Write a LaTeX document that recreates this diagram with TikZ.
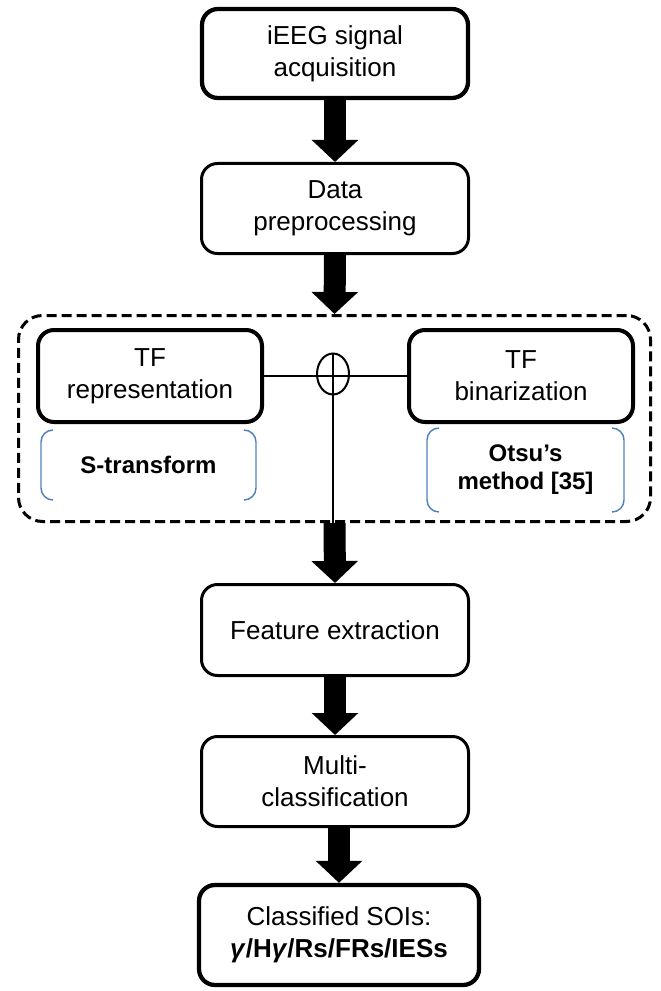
\documentclass[tikz,border=0pt]{standalone}
\usepackage{fontspec}
\setmainfont{Liberation Sans}
\usetikzlibrary{arrows.meta,shapes.geometric}
\definecolor{brk}{RGB}{79,129,189}
\newcommand{\pxs}{0.75pt}
\tikzset{
  box/.style={draw, rounded corners=12pt, align=center, inner sep=0pt,
    font=\fontsize{19.5}{24}\selectfont, line width=2.25pt},
  thickbox/.style={box, line width=3.2pt},
  tfbox/.style={box, line width=3pt, minimum width=224*\pxs, minimum height=92*\pxs},
  dashbox/.style={draw, line width=2.25pt, dash pattern=on 7.5pt off 3.75pt, rounded corners=18pt},
  blk/.style={line width=16.5pt, -{Triangle[length=16.5pt,width=34pt]}},
  thinline/.style={line width=1.5pt},
  brack/.style={draw=brk, line width=1.1pt, rounded corners=9pt},
  lbl/.style={font=\bfseries\fontsize{18}{21}\selectfont, align=center, inner sep=0pt},
}
\begin{document}
\begin{tikzpicture}[x=0.75pt,y=-0.75pt]
\useasboundingbox (0,0) rectangle (660,991);
% main column
\node[thickbox, minimum width=266*\pxs, minimum height=89*\pxs] (acq) at (335,53.5) {iEEG signal\\acquisition};
\node[box, minimum width=267*\pxs, minimum height=90*\pxs] (pre) at (335,208.5) {Data\\preprocessing};
% group
\node[dashbox, minimum width=632*\pxs, minimum height=206*\pxs] (grp) at (334.5,418.5) {};
\node[tfbox] (rep) at (150,376) {TF\\representation};
\node[tfbox] (bin) at (521,376) {TF\\binarization};
\node[ellipse, draw, thinline, minimum width=32*\pxs, minimum height=41*\pxs, inner sep=0pt] (ell) at (333,374) {};
\draw[thinline] (rep.east) -- (bin.west);
\draw[thinline] (ell.north) -- (ell.north |- grp.south);
% bracketed labels
\node[lbl] (st) at (148.5,465) {S-transform};
\node[lbl] (ot) at (525.5,470) {Otsu’s\\method [35]};
\draw[brack] (53,430) -- (41,430) -- (41,500) -- (53,500);
\draw[brack] (244,430) -- (256,430) -- (256,500) -- (244,500);
\draw[brack] (439,428) -- (427,428) -- (427,512) -- (439,512);
\draw[brack] (612,428) -- (624,428) -- (624,512) -- (612,512);
% lower column
\node[box, minimum width=267*\pxs, minimum height=91*\pxs] (feat) at (335,630) {Feature extraction};
\node[box, minimum width=267*\pxs, minimum height=90*\pxs] (multi) at (335,781.5) {Multi-\\classification};
\node[thickbox, minimum width=280*\pxs, minimum height=100*\pxs] (cls) at (339,935) {Classified SOIs:\\\textbf{\textit{γ}/H\textit{γ}/Rs/FRs/IESs}};
% block arrows
\draw[blk] (acq.south) -- (pre.north);
\draw[blk] (pre.south) -- (grp.north);
\draw[blk] (grp.south) -- (feat.north);
\draw[blk] (feat.south) -- (multi.north);
\draw[blk] (cls.north |- multi.south) -- (cls.north);
\end{tikzpicture}
\end{document}
